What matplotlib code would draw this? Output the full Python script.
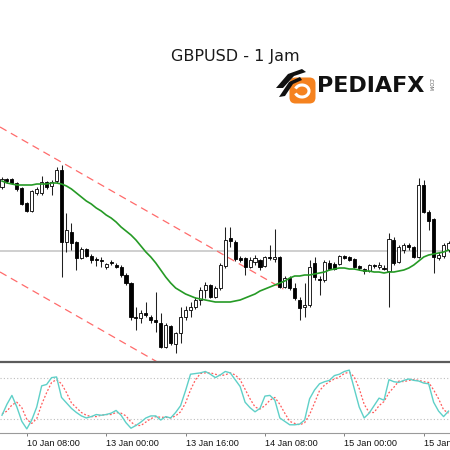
import matplotlib
matplotlib.use("Agg")
import matplotlib.pyplot as plt
import numpy as np
from matplotlib.patches import FancyBboxPatch, Polygon, Arc
from matplotlib.lines import Line2D

# ---------------- data (hourly candles, GBPUSD) ----------------
opens = [1.3113, 1.3121, 1.3121, 1.3117, 1.3112, 1.3097, 1.3089, 1.3107, 1.3107, 1.3118,
         1.3114, 1.3119, 1.3130, 1.3058, 1.3068, 1.3058, 1.3042, 1.3051, 1.3044, 1.3041,
         1.3040, 1.3033, 1.3038, 1.3035, 1.3033, 1.3025, 1.3017, 1.2983, 1.2982, 1.2987,
         1.2983, 1.2980, 1.2977, 1.2953, 1.2974, 1.2956, 1.2967, 1.2983, 1.2990, 1.2993,
         1.3000, 1.3010, 1.3015, 1.3003, 1.3012, 1.3034, 1.3062, 1.3058, 1.3042, 1.3042,
         1.3033, 1.3038, 1.3040, 1.3034, 1.3043, 1.3041, 1.3043, 1.3013, 1.3022, 1.3012,
         1.3000, 1.2993, 1.2995, 1.3037, 1.3021, 1.3020, 1.3037, 1.3036, 1.3036, 1.3044,
         1.3043, 1.3041, 1.3034, 1.3031, 1.3029, 1.3035, 1.3033, 1.3032, 1.3029, 1.3060,
         1.3038, 1.3050, 1.3055, 1.3053, 1.3043, 1.3115, 1.3088, 1.3081, 1.3042, 1.3044,
         1.3050]
highs = [1.3123, 1.3122, 1.3122, 1.3118, 1.3113, 1.3098, 1.3110, 1.3113, 1.3124, 1.3119,
         1.3120, 1.3133, 1.3135, 1.3087, 1.3077, 1.3059, 1.3053, 1.3052, 1.3046, 1.3043,
         1.3043, 1.3037, 1.3040, 1.3037, 1.3035, 1.3027, 1.3018, 1.2993, 1.2990, 1.2998,
         1.2985, 1.3008, 1.2987, 1.2977, 1.2975, 1.2968, 1.2993, 1.2994, 1.2998, 1.3003,
         1.3013, 1.3018, 1.3016, 1.3014, 1.3037, 1.3073, 1.3073, 1.3060, 1.3044, 1.3043,
         1.3043, 1.3045, 1.3041, 1.3044, 1.3055, 1.3071, 1.3044, 1.3024, 1.3024, 1.3017,
         1.3003, 1.3017, 1.3040, 1.3043, 1.3024, 1.3040, 1.3040, 1.3038, 1.3045, 1.3045,
         1.3044, 1.3042, 1.3035, 1.3032, 1.3036, 1.3036, 1.3038, 1.3035, 1.3067, 1.3063,
         1.3055, 1.3057, 1.3057, 1.3054, 1.3122, 1.3120, 1.3090, 1.3082, 1.3048, 1.3057,
         1.3059]
lows = [1.3111, 1.3117, 1.3116, 1.3109, 1.3095, 1.3088, 1.3088, 1.3105, 1.3105, 1.3111,
        1.3105, 1.3117, 1.3023, 1.3048, 1.3050, 1.3030, 1.3041, 1.3043, 1.3037, 1.3034,
        1.3033, 1.3031, 1.3035, 1.3032, 1.3023, 1.3015, 1.2980, 1.2970, 1.2977, 1.2983,
        1.2977, 1.2968, 1.2952, 1.2952, 1.2955, 1.2947, 1.2957, 1.2980, 1.2983, 1.2991,
        1.2995, 1.3002, 1.3002, 1.3002, 1.3010, 1.3032, 1.3053, 1.3039, 1.3038, 1.3025,
        1.3032, 1.3035, 1.3030, 1.3033, 1.3040, 1.3038, 1.3012, 1.3012, 1.3010, 1.3000,
        1.2980, 1.2983, 1.2993, 1.3020, 1.3005, 1.3018, 1.3030, 1.3030, 1.3035, 1.3041,
        1.3039, 1.3032, 1.3030, 1.3026, 1.3028, 1.3032, 1.3031, 1.3030, 1.2993, 1.3035,
        1.3037, 1.3047, 1.3050, 1.3042, 1.3042, 1.3087, 1.3070, 1.3027, 1.3040, 1.3042,
        1.3048]
closes = [1.3121, 1.3119, 1.3117, 1.3111, 1.3096, 1.3089, 1.3109, 1.3111, 1.3118, 1.3113,
          1.3118, 1.3130, 1.3058, 1.3070, 1.3057, 1.3042, 1.3051, 1.3044, 1.3040, 1.3040,
          1.3039, 1.3036, 1.3037, 1.3033, 1.3025, 1.3017, 1.2983, 1.2982, 1.2987, 1.2985,
          1.2980, 1.2978, 1.2953, 1.2975, 1.2957, 1.2967, 1.2983, 1.2990, 1.2993, 1.3000,
          1.3010, 1.3015, 1.3003, 1.3012, 1.3035, 1.3060, 1.3059, 1.3041, 1.3040, 1.3033,
          1.3040, 1.3042, 1.3033, 1.3043, 1.3042, 1.3043, 1.3013, 1.3022, 1.3012, 1.3002,
          1.2992, 1.2995, 1.3033, 1.3023, 1.3020, 1.3038, 1.3031, 1.3031, 1.3044, 1.3042,
          1.3040, 1.3033, 1.3032, 1.3029, 1.3035, 1.3034, 1.3035, 1.3031, 1.3061, 1.3037,
          1.3053, 1.3055, 1.3053, 1.3043, 1.3115, 1.3088, 1.3079, 1.3043, 1.3045, 1.3055,
          1.3057]
moving_avg = [1.3119, 1.3117, 1.3116, 1.3115, 1.3115, 1.3115, 1.3115, 1.3116, 1.3116, 1.3116,
              1.3117, 1.3117, 1.3116, 1.3114, 1.3111, 1.3107, 1.3103, 1.3099, 1.3096, 1.3092,
              1.3089, 1.3085, 1.3082, 1.3078, 1.3073, 1.3069, 1.3065, 1.3060, 1.3054, 1.3048,
              1.3043, 1.3037, 1.3030, 1.3023, 1.3017, 1.3012, 1.3009, 1.3006, 1.3004, 1.3002,
              1.3001, 1.3000, 1.2999, 1.2998, 1.2998, 1.2998, 1.2998, 1.2999, 1.3000, 1.3002,
              1.3004, 1.3006, 1.3009, 1.3011, 1.3013, 1.3015, 1.3017, 1.3019, 1.3022, 1.3024,
              1.3024, 1.3025, 1.3025, 1.3026, 1.3027, 1.3028, 1.3030, 1.3031, 1.3032, 1.3032,
              1.3031, 1.3031, 1.3030, 1.3029, 1.3029, 1.3028, 1.3028, 1.3027, 1.3028, 1.3028,
              1.3029, 1.3030, 1.3032, 1.3035, 1.3039, 1.3043, 1.3045, 1.3046, 1.3047, 1.3048,
              1.3050]
stoch_main = [26, 42, 55, 38, 17, 6, 19, 38, 69, 71,
              81, 82, 52, 44, 36, 30, 25, 22, 24, 27,
              26, 27, 29, 33, 26, 15, 7, 11, 16, 22,
              25, 25, 19, 24, 22, 30, 40, 62, 86, 87,
              88, 90, 86, 81, 85, 90, 88, 78, 68, 45,
              37, 31, 36, 54, 55, 48, 22, 17, 12, 12,
              13, 19, 50, 63, 72, 75, 77, 84, 86, 90,
              92, 65, 38, 22, 29, 40, 51, 48, 78, 75,
              74, 77, 79, 77, 76, 73, 72, 45, 32, 24,
              32]
stoch_signal = [28, 32, 41, 45, 37, 20, 14, 21, 42, 59,
                74, 78, 72, 59, 44, 37, 30, 26, 24, 24,
                26, 27, 27, 30, 29, 25, 16, 11, 11, 16,
                21, 24, 23, 23, 22, 25, 31, 44, 63, 78,
                87, 88, 88, 86, 84, 85, 88, 85, 78, 64,
                50, 38, 35, 40, 48, 52, 42, 29, 17, 14,
                12, 15, 27, 44, 62, 70, 75, 79, 82, 87,
                89, 82, 65, 42, 30, 30, 40, 46, 59, 67,
                76, 75, 77, 78, 77, 75, 74, 63, 50, 34,
                29]
channel_x = [-0.4, 56.7]
channel_upper = [1.3173, 1.3011]
channel_lower = [1.3028, 1.2866]
bid_price = 1.30495
stoch_levels = [20, 80]
tick_pos = [5, 21, 37, 53, 69, 85]
tick_labels = ["10 Jan 08:00", "13 Jan 00:00", "13 Jan 16:00",
               "14 Jan 08:00", "15 Jan 00:00", "15 Jan 16:00"]
title_text = "GBPUSD - 1 Jam"

# ---------------- figure ----------------
H = 450.0
fig = plt.figure(figsize=(4.5, 4.5), dpi=100)
fig.patch.set_facecolor("white")

ax = fig.add_axes([0, 1 - 361 / H, 1, 361 / H])
ax.set_xlim(-0.4, 90.3)
ax.set_ylim(1.2939, 1.3300)
for s in ax.spines.values():
    s.set_visible(False)
ax.set_xticks([])
ax.set_yticks([])

x = np.arange(len(opens))
o = np.array(opens); h = np.array(highs); l = np.array(lows); c = np.array(closes)

ax.axhline(bid_price, color="#cfcfcf", lw=1.4, zorder=1)
ax.plot(channel_x, channel_upper, color="#ff6b6b", lw=0.9, dashes=(6, 4), zorder=2)
ax.plot(channel_x, channel_lower, color="#ff6b6b", lw=0.9, dashes=(6, 4), zorder=2)

ax.vlines(x, l, h, color="#202020", lw=0.75, zorder=3)
bottoms = np.minimum(o, c)
heights = np.maximum(np.abs(c - o), 0.00002)
colors = ["white" if cc > oo else "black" for oo, cc in zip(o, c)]
ax.bar(x, heights, bottom=bottoms, width=0.62, color=colors,
       edgecolor="black", linewidth=0.6, zorder=4)

ax.plot(x, moving_avg, color="#259a25", lw=1.2, zorder=5)

# separator
fig.add_artist(Line2D([0, 1], [1 - 362 / H] * 2, transform=fig.transFigure,
                      color="#5c5c5c", lw=1.6))

# stochastic panel
ax2 = fig.add_axes([0, 1 - 433 / H, 1, 70 / H])
ax2.set_xlim(-0.4, 90.3)
ax2.set_ylim(0, 102.4)
for name, s in ax2.spines.items():
    s.set_visible(name == "bottom")
ax2.spines["bottom"].set_color("#9a9a9a")
ax2.spines["bottom"].set_linewidth(0.8)
for lv in stoch_levels:
    ax2.axhline(lv, color="#bdbdbd", lw=0.8, ls=(0, (1, 2)), zorder=1)
ax2.plot(x, stoch_signal, color="#ff5a5a", lw=0.9, ls=(0, (1.5, 1.5)), zorder=2)
ax2.plot(x, stoch_main, color="#5fd0c8", lw=1.0, zorder=3)
ax2.set_yticks([])
ax2.set_xticks(tick_pos)
ax2.set_xticklabels(tick_labels, ha="left", family="Liberation Sans", fontsize=6.6,
                    color="#111111")
ax2.tick_params(axis="x", direction="out", length=2.5, width=0.7, color="#808080", pad=1.5)

# overlay: title & logo
ov = fig.add_axes([0, 0, 1, 1])
ov.set_xlim(0, 450)
ov.set_ylim(450, 0)
ov.axis("off")
ov.patch.set_visible(False)
ov.text(235, 57, title_text, ha="center", va="center", fontsize=11.5,
        family="DejaVu Sans", color="#1a1a1a")

orange = "#f5821f"
ov.add_patch(FancyBboxPatch((291, 79), 23, 23, boxstyle="round,pad=1.5,rounding_size=6",
                            fc=orange, ec="none"))
ov.add_patch(Arc((302, 91), 14, 12, theta1=200, theta2=160, color="white", lw=2.2))
ov.add_patch(Polygon([[276, 88], [288, 74], [302, 69], [306, 72], [294, 76], [283, 88]],
                     closed=True, fc="#111111", ec="none"))
ov.add_patch(Polygon([[279, 97], [289, 82], [300, 77], [302, 80], [293, 84], [285, 96]],
                     closed=True, fc="#111111", ec="none"))
ov.text(317, 85.5, "PEDIAFX", ha="left", va="center", fontsize=16, fontweight="bold",
        family="DejaVu Sans", color="#111111")
ov.text(430, 84, ".COM", ha="center", va="center", fontsize=3.5, rotation=270,
        family="DejaVu Sans", color="#555555")

fig.savefig("out.png", dpi=100)
